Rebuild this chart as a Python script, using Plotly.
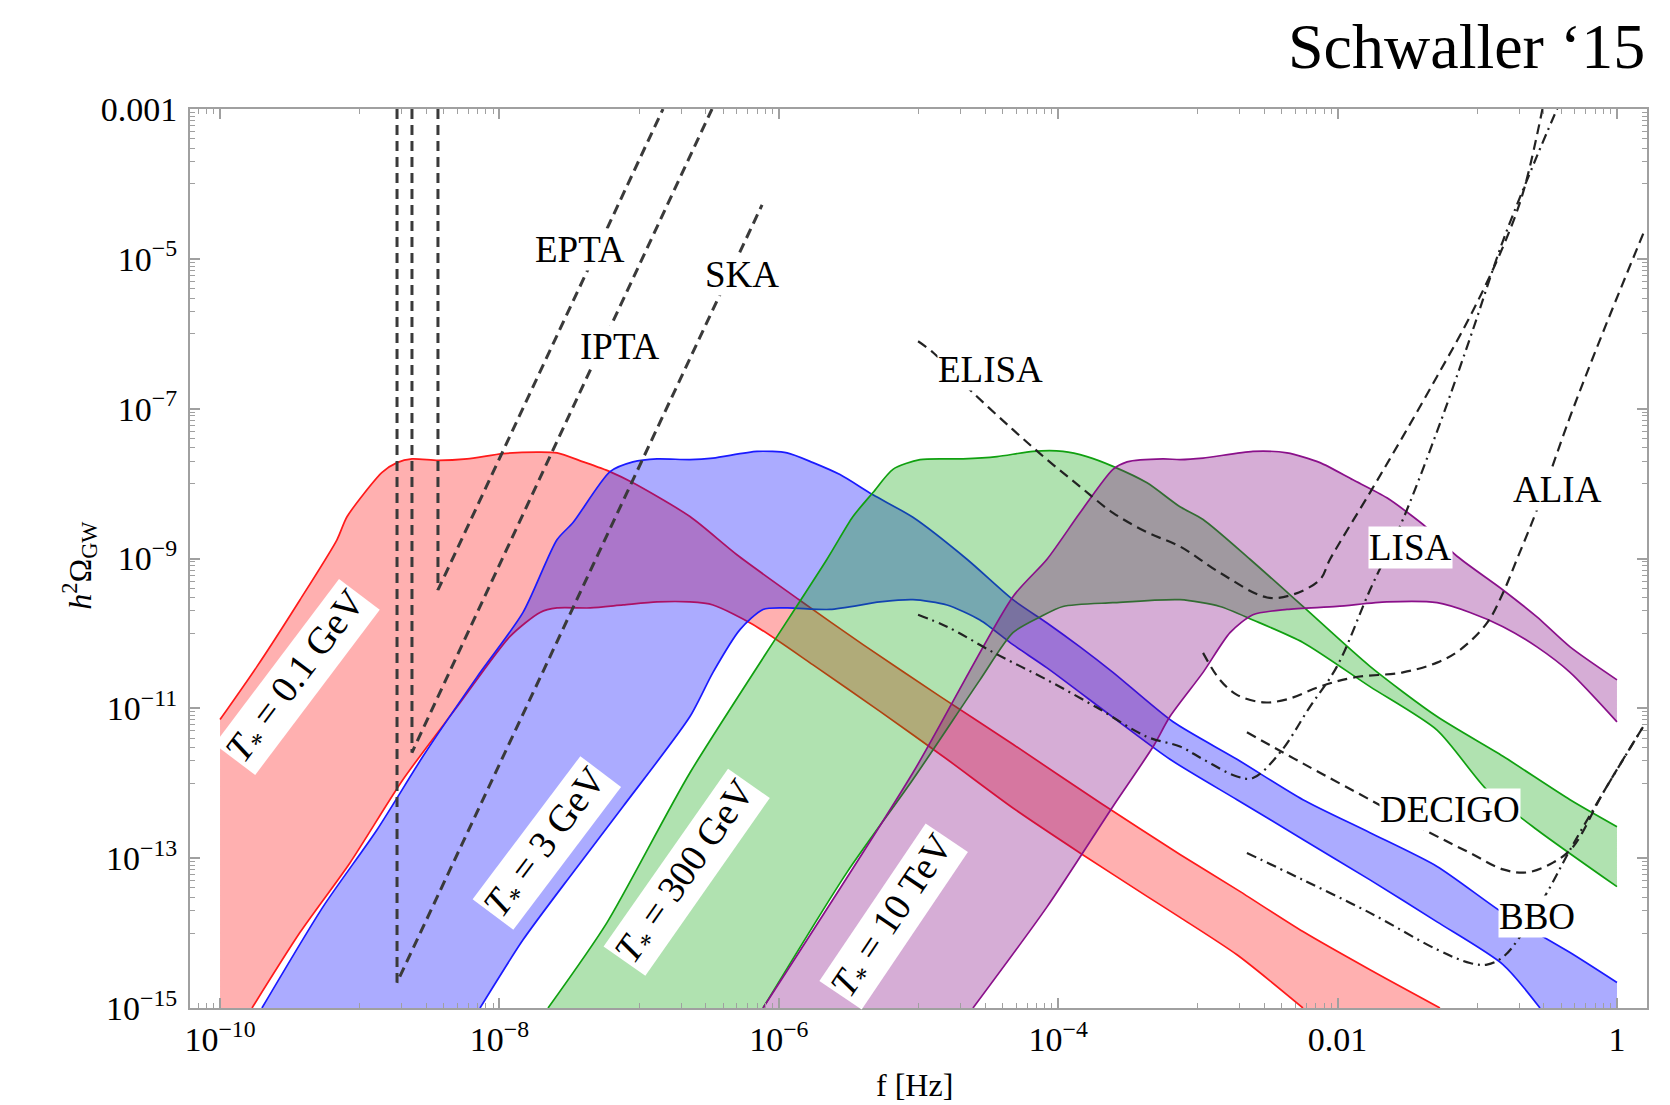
import plotly.graph_objects as go

# ---------------- data: log10(f/Hz) and log10(h^2 Omega_GW) ----------------
# T* = 0.1 GeV band
red_up_lf = [-10.0, -9.735, -9.427, -9.163, -9.09, -8.84, -8.733, -8.626, -8.44, -8.232, -7.974, -7.73, -7.588,
             -7.40, -7.21, -7.044, -6.636, -6.30, -5.855, -5.397, -4.846, -4.324, -3.70, -3.128, -2.72, -2.248,
             -1.768, -1.267]
red_up_lo = [-11.15, -10.44, -9.55, -8.75, -8.44, -7.85, -7.72, -7.67, -7.69, -7.67, -7.60, -7.58, -7.59,
             -7.71, -7.84, -7.99, -8.44, -8.95, -9.55, -10.15, -10.84, -11.48, -12.26, -12.95, -13.42, -13.98,
             -14.49, -15.0]
red_lo_lf = [-9.771, -9.427, -9.069, -8.69, -8.303, -7.924, -7.709, -7.588, -7.35, -7.115, -6.872, -6.636, -6.471,
             -6.185, -5.755, -5.276, -4.796, -4.324, -3.844, -3.364, -3.128, -2.72, -2.248]
red_lo_lo = [-15.0, -13.99, -13.06, -11.95, -10.98, -10.04, -9.72, -9.66, -9.66, -9.62, -9.58, -9.58, -9.62,
             -9.88, -10.42, -11.04, -11.68, -12.33, -12.93, -13.51, -13.79, -14.29, -15.0]

# T* = 3 GeV band
blue_up_lf = [-9.70, -9.263, -8.876, -8.547, -8.16, -7.831, -7.588, -7.473, -7.208, -7.044, -6.872, -6.636, -6.471,
              -6.156, -5.941, -5.755, -5.562, -5.326, -5.04, -4.653, -4.324, -4.08, -3.844, -3.608, -3.178, -2.72,
              -2.248, -1.768, -1.288, -0.816, -0.336, 0.0]
blue_up_lo = [-15.0, -13.65, -12.62, -11.64, -10.58, -9.72, -8.75, -8.52, -7.84, -7.71, -7.67, -7.68, -7.66,
              -7.57, -7.59, -7.72, -7.88, -8.15, -8.45, -9.01, -9.55, -9.86, -10.18, -10.52, -11.18, -11.68,
              -12.22, -12.66, -13.11, -13.73, -14.26, -14.66]
blue_lo_lf = [-8.139, -7.831, -7.473, -7.115, -6.636, -6.471, -6.278, -6.113, -5.941, -5.634, -5.276, -5.04, -4.796,
              -4.56, -4.324, -4.08, -3.608, -3.2, -2.72, -2.248, -1.768, -1.288, -0.816, -0.551]
blue_lo_lo = [-15.0, -14.09, -13.19, -12.31, -11.11, -10.52, -9.95, -9.68, -9.66, -9.68, -9.58, -9.55, -9.62,
              -9.82, -10.15, -10.46, -11.12, -11.68, -12.22, -12.75, -13.29, -13.85, -14.42, -15.0]

# T* = 300 GeV band
green_up_lf = [-7.652, -7.23, -6.636, -5.655, -5.469, -5.326, -5.183, -4.989, -4.681, -4.438, -4.18, -3.966, -3.794,
               -3.608, -3.364, -3.128, -2.963, -2.627, -2.248, -1.768, -1.288, -0.816, -0.336, 0.0]
green_up_lo = [-15.0, -13.86, -11.86, -9.01, -8.44, -8.12, -7.81, -7.68, -7.67, -7.64, -7.57, -7.57, -7.64,
               -7.77, -7.99, -8.31, -8.48, -9.01, -9.64, -10.44, -11.11, -11.64, -12.22, -12.58]
green_lo_lf = [-6.113, -5.512, -5.04, -4.56, -4.324, -4.13, -3.966, -3.608, -3.128, -2.842, -2.606, -2.248, -1.768,
               -1.288, -0.93, -0.573, 0.0]
green_lo_lo = [-15.0, -13.19, -11.95, -10.62, -9.99, -9.78, -9.64, -9.59, -9.55, -9.64, -9.82, -10.12, -10.71,
               -11.29, -12.09, -12.62, -13.38]

# T* = 10 TeV band
purple_up_lf = [-6.113, -5.04, -4.324, -4.08, -3.844, -3.608, -3.507, -3.25, -3.128, -2.963, -2.606, -2.362, -2.126,
                -1.89, -1.647, -1.36, -1.145, -0.816, -0.573, -0.336, 0.0]
purple_up_lo = [-15.0, -11.86, -9.51, -9.01, -8.39, -7.81, -7.71, -7.67, -7.68, -7.66, -7.57, -7.59, -7.72,
                -7.95, -8.19, -8.59, -8.97, -9.42, -9.78, -10.18, -10.62]
purple_lo_lf = [-4.61, -4.08, -3.608, -3.32, -3.2, -2.963, -2.77, -2.606, -2.362, -2.004, -1.647, -1.288, -1.052,
                -0.816, -0.573, -0.336, 0.0]
purple_lo_lo = [-15.0, -13.65, -12.31, -11.51, -11.11, -10.52, -9.99, -9.75, -9.68, -9.64, -9.58, -9.59, -9.72,
                -9.91, -10.18, -10.52, -11.18]

# detector sensitivity curves
epta_lf = [-8.44, -8.44, -6.829]
epta_lo = [-3.0, -9.42, -3.0]
ipta_lf = [-8.626, -8.626, -6.478]
ipta_lo = [-3.0, -11.59, -3.0]
ska_lf = [-8.733, -8.733, -6.12]
ska_lo = [-3.0, -14.66, -4.28]
elisa_lf = [-5.003, -4.896, -4.631, -4.324, -4.08, -3.844, -3.608, -3.364, -3.128, -2.842, -2.505, -2.319, -2.126,
            -2.054, -1.768, -1.532, -1.288, -1.052, -0.816, -0.673, -0.53]
elisa_lo = [-6.10, -6.25, -6.75, -7.28, -7.68, -8.04, -8.39, -8.65, -8.84, -9.19, -9.52, -9.48, -9.28,
            -9.01, -8.12, -7.37, -6.57, -5.77, -4.84, -4.12, -2.97]
lisa_lf = [-5.003, -4.796, -4.438, -4.08, -3.722, -3.364, -3.128, -2.963, -2.72, -2.606, -2.412, -2.198, -2.004,
           -1.768, -1.553, -1.289, -1.052, -0.816, -0.573, -0.422]
lisa_lo = [-9.75, -9.91, -10.28, -10.62, -10.99, -11.38, -11.51, -11.68, -11.91, -11.93, -11.59, -10.98, -10.44,
           -9.42, -8.57, -7.31, -6.06, -4.76, -3.63, -2.97]
alia_lf = [-2.963, -2.842, -2.72, -2.534, -2.362, -2.126, -1.89, -1.532, -1.288, -1.124, -0.93, -0.816, -0.716,
           -0.573, -0.336, -0.1, 0.2]
alia_lo = [-10.26, -10.62, -10.82, -10.92, -10.88, -10.71, -10.59, -10.52, -10.39, -10.22, -9.86, -9.46, -9.01,
           -8.35, -7.11, -5.98, -4.61]
decigo_lf = [-2.649, -2.39, -2.126, -1.768, -1.339, -1.052, -0.816, -0.644, -0.458, -0.315, -0.1, 0.186]
decigo_lo = [-11.32, -11.59, -11.86, -12.22, -12.66, -12.93, -13.15, -13.19, -13.06, -12.85, -12.13, -11.25]
bbo_lf = [-2.649, -2.248, -1.768, -1.288, -1.052, -0.93, -0.816, -0.694, -0.501, -0.336, -0.1, 0.186]
bbo_lo = [-12.93, -13.29, -13.73, -14.22, -14.40, -14.42, -14.32, -14.05, -13.46, -12.89, -12.13, -11.25]

# text labels: (text, log10 f, log10 Omega) and (text, log10 f, log10 Omega, angle)
det_labels = [("EPTA", -7.423, -4.88), ("IPTA", -7.137, -6.17), ("SKA", -6.263, -5.21),
              ("ELISA", -4.488, -6.48), ("LISA", -1.475, -8.85), ("ALIA", -0.429, -8.08),
              ("DECIGO", -1.195, -12.35), ("BBO", -0.573, -13.78)]
temp_labels = [("0.1 GeV", -9.449, -10.58, -53), ("3 GeV", -7.66, -12.80, -53),
               ("300 GeV", -6.657, -13.19, -55), ("10 TeV", -5.182, -13.78, -56)]

x_tick_exp = [-10, -8, -6, -4, -2, 0]
x_tick_text = ["10<sup>\u221210</sup>", "10<sup>\u22128</sup>", "10<sup>\u22126</sup>", "10<sup>\u22124</sup>",
               "0.01", "1"]
y_tick_exp = [-3, -5, -7, -9, -11, -13, -15]
y_tick_text = ["0.001", "10<sup>\u22125</sup>", "10<sup>\u22127</sup>", "10<sup>\u22129</sup>",
               "10<sup>\u221211</sup>", "10<sup>\u221213</sup>", "10<sup>\u221215</sup>"]

# ---------------- figure ----------------
YMIN, YMAX = -15.0, -3.0
XMIN, XMAX = -10.215, 0.215
SERIF = "Liberation Serif"


def pw(v):
    return [10 ** a for a in v]


def polygon(ulf, ulo, llf, llo):
    """Closed outline: upper curve, down to the axis floor where needed, lower curve backwards.
    Junction points are doubled so the spline keeps sharp corners there."""
    xs = [ulf[0]] + list(ulf) + [ulf[-1]]
    ys = [ulo[0]] + list(ulo) + [ulo[-1]]
    if ulo[0] > YMIN and llo[0] <= YMIN:
        xs = [ulf[0], ulf[0]] + xs
        ys = [YMIN, YMIN] + ys
    if ulo[-1] > YMIN and llo[-1] <= YMIN:
        xs = xs + [ulf[-1], ulf[-1]]
        ys = ys + [YMIN, YMIN]
    rl, ro = list(llf)[::-1], list(llo)[::-1]
    xs += [rl[0]] + rl + [rl[-1]]
    ys += [ro[0]] + ro + [ro[-1]]
    return xs, ys


fig = go.Figure()

SM = 0.7
bands = [
    (red_up_lf, red_up_lo, red_lo_lf, red_lo_lo, "rgba(255,0,0,0.31)", "#ff1a1a"),
    (blue_up_lf, blue_up_lo, blue_lo_lf, blue_lo_lo, "rgba(0,0,255,0.33)", "#1a1aff"),
    (green_up_lf, green_up_lo, green_lo_lf, green_lo_lo, "rgba(0,160,0,0.31)", "#10a010"),
    (purple_up_lf, purple_up_lo, purple_lo_lf, purple_lo_lo, "rgba(128,0,128,0.32)", "#8a108a"),
]
for ulf, ulo, llf, llo, fillc, linec in bands:
    px, py = polygon(ulf, ulo, llf, llo)
    fig.add_trace(go.Scatter(x=pw(px), y=pw(py), mode="lines", fill="toself", fillcolor=fillc,
                             line=dict(width=0, color=fillc, shape="spline", smoothing=SM, simplify=False),
                             hoverinfo="skip", showlegend=False))
    for lf, lo in ((ulf, ulo), (llf, llo)):
        fig.add_trace(go.Scatter(x=pw(lf), y=pw(lo), mode="lines",
                                 line=dict(color=linec, width=1.7, shape="spline", smoothing=SM),
                                 hoverinfo="skip", showlegend=False))

DASH = "10px,6px"
DASHDOT = "10px,5px,2px,5px"
sens = [
    (epta_lf, epta_lo, DASH, 3.0, "#3a3a3a", "linear"),
    (ipta_lf, ipta_lo, DASH, 3.0, "#3a3a3a", "linear"),
    (ska_lf, ska_lo, DASH, 3.0, "#3a3a3a", "linear"),
    (elisa_lf, elisa_lo, DASH, 2.2, "#222222", "spline"),
    (lisa_lf, lisa_lo, DASHDOT, 2.2, "#222222", "spline"),
    (alia_lf, alia_lo, DASH, 2.2, "#222222", "spline"),
    (decigo_lf, decigo_lo, DASH, 2.2, "#222222", "spline"),
    (bbo_lf, bbo_lo, DASHDOT, 2.2, "#222222", "spline"),
]
for lf, lo, d, w, c, shp in sens:
    fig.add_trace(go.Scatter(x=pw(lf), y=pw(lo), mode="lines", line=dict(color=c, width=w, dash=d, shape=shp),
                             hoverinfo="skip", showlegend=False))

for txt, lf, lo in det_labels:
    fig.add_annotation(x=lf, y=lo, xref="x", yref="y", xanchor="center", yanchor="middle", text=txt,
                       showarrow=False, font=dict(family=SERIF, size=37, color="black"), bgcolor="white",
                       borderpad=0)

for txt, lf, lo, ang in temp_labels:
    fig.add_annotation(x=lf, y=lo, xref="x", yref="y", xanchor="center", yanchor="middle",
                       text="<i>T</i><sub>*</sub> = " + txt, showarrow=False,
                       textangle=ang, font=dict(family=SERIF, size=38, color="black"), bgcolor="white",
                       borderpad=1)

fig.add_annotation(x=1.0, y=1.069, xref="paper", yref="paper", xanchor="right", yanchor="middle",
                   text="Schwaller \u201815", showarrow=False, font=dict(family=SERIF, size=64, color="black"))
fig.add_annotation(x=0.497, y=-0.0857, xref="paper", yref="paper", xanchor="center", yanchor="middle",
                   text="f [Hz]", showarrow=False, font=dict(family=SERIF, size=32, color="black"))
fig.add_annotation(x=-0.0755, y=0.493, xref="paper", yref="paper", xanchor="center", yanchor="middle",
                   textangle=-90, text="<i>h</i><sup>2</sup>\u03a9<sub>GW</sub>", showarrow=False,
                   font=dict(family=SERIF, size=32, color="black"))

x_minor = [m * 10.0 ** (k - 1) for k in x_tick_exp for m in range(1, 10)]
y_minor = [m * 10.0 ** (k - 1) for k in y_tick_exp for m in range(1, 10)]

axis_common = dict(type="log", showgrid=False, zeroline=False, showline=True, linecolor="#a0a0a0", linewidth=2,
                   mirror="ticks", ticks="inside", ticklen=10, tickwidth=1.5, tickcolor="#a0a0a0",
                   automargin=False, tickfont=dict(family=SERIF, size=34, color="black"))

fig.update_xaxes(range=[XMIN, XMAX], tickmode="array", tickvals=[10.0 ** e for e in x_tick_exp],
                 ticktext=x_tick_text, ticklabelstandoff=0,
                 minor=dict(tickmode="array", tickvals=x_minor, ticks="inside", ticklen=5, tickcolor="#a0a0a0",
                            tickwidth=1.2, showgrid=False),
                 **axis_common)
fig.update_yaxes(range=[YMIN, YMAX], tickmode="array", tickvals=[10.0 ** e for e in y_tick_exp],
                 ticktext=y_tick_text, ticklabelstandoff=4,
                 minor=dict(tickmode="array", tickvals=y_minor, ticks="inside", ticklen=5, tickcolor="#a0a0a0",
                            tickwidth=1.2, showgrid=False),
                 **axis_common)

# page body has an 8px margin: the plot area is placed to land on x 190..1647, y 109..1008
fig.update_layout(width=1654, height=1097, margin=dict(l=182, r=15, t=101, b=97),
                  paper_bgcolor="white", plot_bgcolor="white", showlegend=False)

fig.write_html("out.html")
